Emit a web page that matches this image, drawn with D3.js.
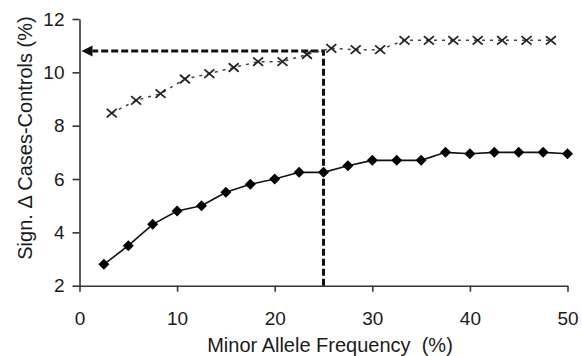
<!DOCTYPE html>
<html><head><meta charset="utf-8">
<script src="https://cdn.jsdelivr.net/npm/d3@7"></script>
<style>body{margin:0;background:#fff}svg{display:block}text{font-family:"Liberation Sans",Arial,sans-serif;fill:#1a1a1a}</style>
</head><body><svg id="c" width="582" height="356"></svg>
<script>
const diamondX = [2.5,5,7.5,10,12.5,15,17.5,20,22.5,25,27.5,30,32.5,35,37.5,40,42.5,45,47.5,50];
const diamondY = [2.8,3.5,4.3,4.8,5.0,5.5,5.8,6.0,6.25,6.25,6.5,6.7,6.7,6.7,7.0,6.95,7.0,7.0,7.0,6.95];
const crossX = [3.3,5.8,8.3,10.8,13.3,15.8,18.3,20.8,23.3,25.8,28.3,30.8,33.3,35.8,38.3,40.8,43.3,45.8,48.3];
const crossY = [8.47,8.95,9.2,9.75,9.95,10.18,10.4,10.4,10.67,10.9,10.85,10.85,11.2,11.2,11.2,11.2,11.2,11.2,11.2];
const xTicks = [0,10,20,30,40,50];
const yTicks = [2,4,6,8,10,12];
const guideX = 25, guideY = 10.8;
const xTitle = "Minor Allele Frequency  (%)";
const yTitle = "Sign. Δ Cases-Controls (%)";

const svg = d3.select("#c");
const x = d3.scaleLinear().domain([0,50]).range([79.5,567.5]);
const y = d3.scaleLinear().domain([2,12]).range([285.7,19]);

// axes
const gx = svg.append("g").attr("transform",`translate(0,${y(2)})`)
  .call(d3.axisBottom(x).tickValues(xTicks).tickSize(6).tickPadding(20).tickSizeOuter(0));
const gy = svg.append("g").attr("transform",`translate(${x(0)},0)`)
  .call(d3.axisLeft(y).tickValues(yTicks).tickSize(7).tickPadding(8).tickSizeOuter(0));
[gx,gy].forEach(g=>{
  g.select(".domain").attr("stroke","#333").attr("stroke-width",1.6);
  g.selectAll(".tick line").attr("stroke","#333").attr("stroke-width",1.6);
  g.selectAll(".tick text").attr("font-size",19).attr("font-family","Liberation Sans, Arial, sans-serif").attr("fill","#1a1a1a");
});

// titles
svg.append("text").attr("x",330).attr("y",352).attr("text-anchor","middle")
  .attr("font-size",20).style("white-space","pre").text(xTitle);
svg.append("text").attr("transform",`translate(32,138) rotate(-90)`).attr("text-anchor","middle")
  .attr("font-size",20).text(yTitle);

// guide lines
svg.append("path")
  .attr("d",`M${x(guideX)},${y(2)}V${y(guideY)}H${x(0)+13}`)
  .attr("fill","none").attr("stroke","#111").attr("stroke-width",3).attr("stroke-dasharray","7,3");
svg.append("path")
  .attr("d",`M${x(0)+2},${y(guideY)}l11,-5.5v11z`).attr("fill","#111");

// cross series
const crossData = crossX.map((d,i)=>[d,crossY[i]]);
svg.append("path").datum(crossData)
  .attr("d",d3.line().x(d=>x(d[0])).y(d=>y(d[1])))
  .attr("fill","none").attr("stroke","#444").attr("stroke-width",1.5).attr("stroke-dasharray","3,5");
svg.append("g").selectAll("path").data(crossData).join("path")
  .attr("d",d=>{const cx=x(d[0]),cy=y(d[1]),s=5;return `M${cx-s},${cy-s*0.85}L${cx+s},${cy+s*0.85}M${cx-s},${cy+s*0.85}L${cx+s},${cy-s*0.85}`;})
  .attr("stroke","#222").attr("stroke-width",1.8).attr("fill","none");

// diamond series
const diaData = diamondX.map((d,i)=>[d,diamondY[i]]);
svg.append("path").datum(diaData)
  .attr("d",d3.line().x(d=>x(d[0])).y(d=>y(d[1])))
  .attr("fill","none").attr("stroke","#111").attr("stroke-width",1.6);
svg.append("g").selectAll("path").data(diaData).join("path")
  .attr("d",d=>{const cx=x(d[0]),cy=y(d[1]),s=5.5;return `M${cx},${cy-s}L${cx+s},${cy}L${cx},${cy+s}L${cx-s},${cy}Z`;})
  .attr("fill","#000");
</script></body></html>
